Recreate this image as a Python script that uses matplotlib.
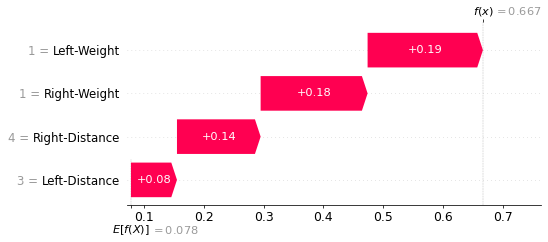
import matplotlib
matplotlib.use("Agg")
import matplotlib.pyplot as plt

# feature rows, top to bottom
features = ["Left-Weight", "Right-Weight", "Right-Distance", "Left-Distance"]
feature_values = [1, 1, 4, 3]
shap_values = [0.193, 0.179, 0.140, 0.077]
base_value = 0.078

red = "#ff0051"
grey = "#999999"
dpi = 68.5
fig = plt.figure(figsize=(548 / dpi, 242 / dpi), dpi=dpi)
ax = fig.add_axes([0.232, 0.153, 0.755, 0.756])

n = len(features)
xlim = (0.0716, 0.764)
hl = 0.0095  # arrow head length in data units

# waterfall goes from bottom row up
left = base_value
for i in range(n - 1, -1, -1):
    y = n - 1 - i
    d = shap_values[i]
    ax.arrow(left, y, max(d - hl, 1e-6), 0, head_length=min(d, hl), width=0.8,
             head_width=0.8, color=red, linewidth=0, zorder=2)
    ax.text(left + 0.5 * d, y, "%+0.02f" % d, ha="center", va="center",
            color="white", fontsize=12, zorder=3)
    left += d
fx = left

for y in range(n):
    ax.axhline(y, color="#c8c8c8", lw=0.7, dashes=(1, 5), zorder=-1)

ax.axvline(base_value, 0, 1 / n, color="#bbbbbb", linestyle="--", linewidth=0.5, zorder=-1)
ax.axvline(fx, 0, 1, color="#bbbbbb", linestyle="--", linewidth=0.5, zorder=-1)

ax.set_xlim(*xlim)
ax.set_ylim(-0.58, 3.65)

# y labels: black name, grey "v =" in front of it
ypos = [n - 1 - i for i in range(n)]
ax.set_yticks(ypos)
ax.set_yticklabels(features, fontsize=12.3)
for lab, v in zip(ax.yaxis.get_majorticklabels(), feature_values):
    ax.annotate("%d =" % v, xy=(0, 0.5), xycoords=lab, xytext=(-4, 0),
                textcoords="offset points", ha="right", va="center",
                color=grey, fontsize=12.3, annotation_clip=False)

ax.xaxis.set_ticks_position("bottom")
ax.yaxis.set_ticks_position("none")
for s in ["right", "top", "left"]:
    ax.spines[s].set_visible(False)
ax.set_xticks([0.1, 0.2, 0.3, 0.4, 0.5, 0.6, 0.7])
ax.tick_params(axis="x", labelsize=13, pad=2.5)
# tick for E[f(X)]
ax.set_xticks([base_value], minor=True)
ax.tick_params(which="minor", length=3.5, width=0.8)

# E[f(X)] label below the axis
xy_base = (base_value, 0)
ax.annotate("$E[f(X)]$", xy=xy_base, xycoords=("data", "axes fraction"),
            xytext=(-20, -26.5), textcoords="offset points", ha="left", va="center",
            fontsize=12, annotation_clip=False)
ax.annotate("$= %0.03f$" % base_value, xy=xy_base, xycoords=("data", "axes fraction"),
            xytext=(21, -26.5), textcoords="offset points", ha="left", va="center",
            fontsize=12, color=grey, annotation_clip=False)

# f(x) mark at top
ax3 = ax.twiny()
ax3.set_xlim(*xlim)
ax3.xaxis.set_ticks_position("top")
ax3.set_xticks([fx])
ax3.set_xticklabels([""])
for s in ["right", "top", "left", "bottom"]:
    ax3.spines[s].set_visible(False)
xy_fx = (fx, 1)
ax.annotate("$f(x)$", xy=xy_fx, xycoords=("data", "axes fraction"),
            xytext=(-10, 11.5), textcoords="offset points", ha="left", va="center",
            fontsize=12, annotation_clip=False)
ax.annotate("$= %0.03f$" % fx, xy=xy_fx, xycoords=("data", "axes fraction"),
            xytext=(12, 11.5), textcoords="offset points", ha="left", va="center",
            fontsize=12, color=grey, annotation_clip=False)

fig.savefig("out.png", dpi=dpi)
